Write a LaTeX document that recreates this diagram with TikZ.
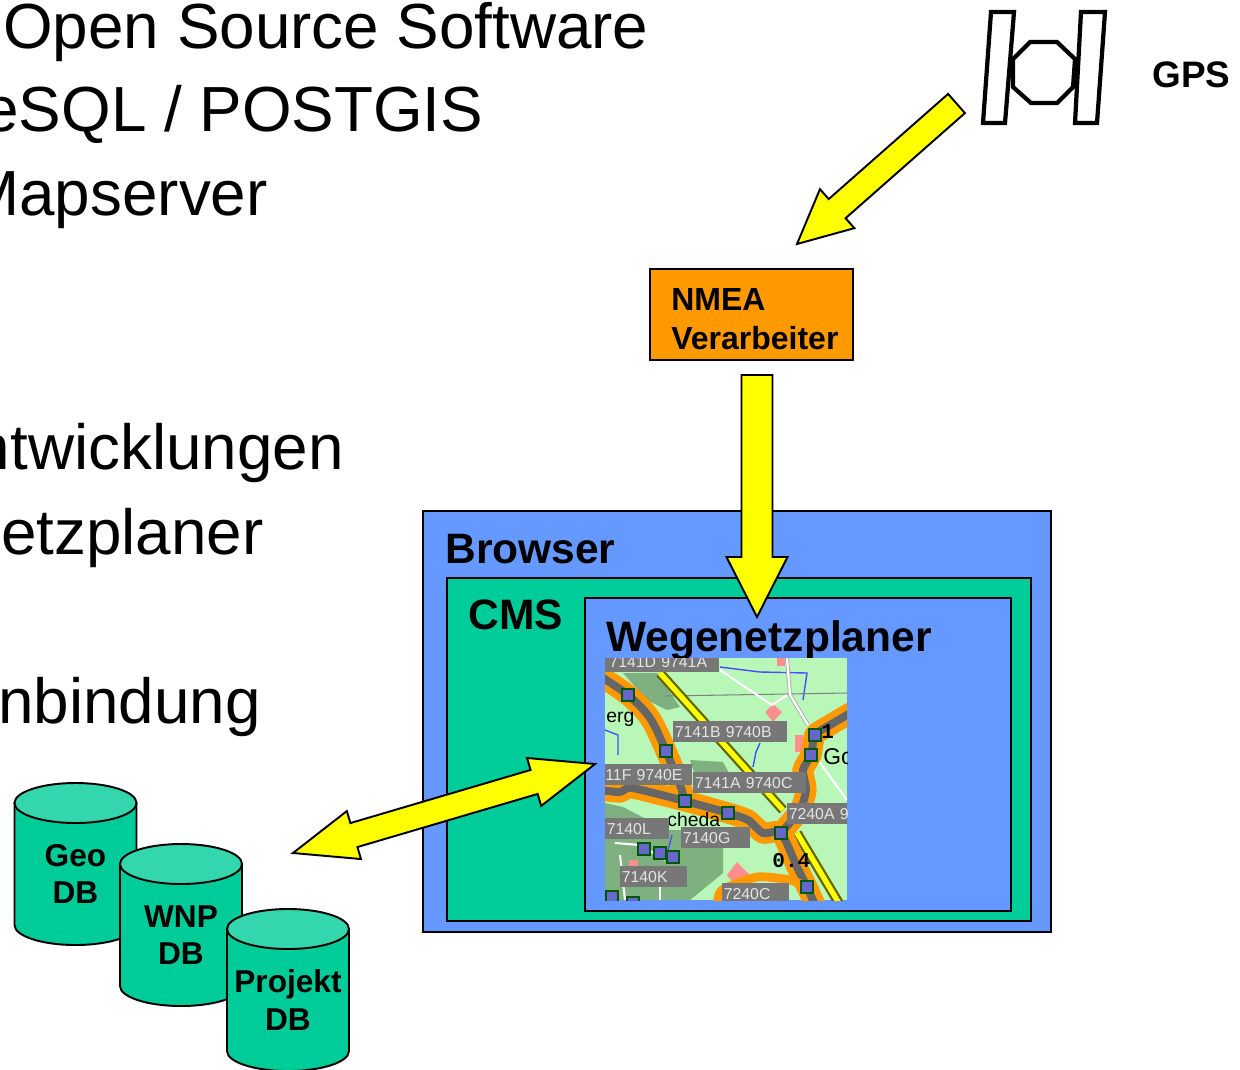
\documentclass[tikz,border=0pt]{standalone}
\usepackage{fontspec}
\setmainfont{Liberation Sans}
\setmonofont{Liberation Mono}
\usetikzlibrary{calc}
\definecolor{boxblue}{HTML}{6699FF}
\definecolor{boxgreen}{HTML}{00CC99}
\definecolor{toplight}{HTML}{33D6AD}
\definecolor{boxorange}{HTML}{FF9900}
\definecolor{arrowyellow}{HTML}{FFFF00}
\definecolor{mapgreen}{HTML}{B8F7B8}
\definecolor{mapdark}{HTML}{7FB07F}
\definecolor{mapgray}{HTML}{777777}
\definecolor{roadgray}{HTML}{666666}
\definecolor{mappink}{HTML}{FF8F8F}
\definecolor{mapsquare}{HTML}{6666CC}
\tikzset{
  slidetext/.style={inner sep=0pt,font=\fontsize{36.3}{40}\selectfont},
  titletext/.style={inner sep=0pt,font=\fontsize{24.2}{28}\selectfont\bfseries},
  boxnode/.style={draw=black,line width=1.1pt,inner sep=0pt},
  dbtext/.style={inner sep=0pt,align=center,font=\fontsize{18}{21.5}\selectfont\bfseries},
  yellowarrow/.style={draw=black,line width=1.1pt,fill=arrowyellow,line join=miter},
  satline/.style={draw=black,line width=2.4pt,fill=white,line join=miter},
  maplabel/.style={fill=mapgray,text=white!90!black,inner sep=0pt,anchor=north west,
    text depth=0pt,font=\fontsize{9}{10}\selectfont},
  mapsq/.style={draw=green!35!black,fill=mapsquare,line width=0.8pt,inner sep=0pt,minimum size=0.24cm},
  maptext/.style={inner sep=0pt,anchor=base west,font=\fontsize{11}{12}\selectfont},
  mapbold/.style={inner sep=0pt,anchor=base west,font=\fontsize{12}{12}\selectfont\ttfamily\bfseries}
}
% block arrows: from, to, half shaft, half head, head length
\newcommand{\blockarrow}[5]{
  \coordinate (hb) at ($(#2)!#5!(#1)$);
  \draw[yellowarrow] ($(#1)!#3!90:(#2)$) -- ($(hb)!#3!-90:(#1)$) -- ($(hb)!#4!-90:(#1)$) -- (#2)
    -- ($(hb)!#4!90:(#1)$) -- ($(hb)!#3!90:(#1)$) -- ($(#1)!#3!-90:(#2)$) -- cycle;
}
\newcommand{\twoheadarrow}[5]{
  \coordinate (ha) at ($(#1)!#5!(#2)$);
  \coordinate (hb) at ($(#2)!#5!(#1)$);
  \draw[yellowarrow] (#1) -- ($(ha)!#4!90:(#2)$) -- ($(ha)!#3!90:(#2)$) -- ($(hb)!#3!-90:(#1)$) -- ($(hb)!#4!-90:(#1)$) -- (#2)
    -- ($(hb)!#4!90:(#1)$) -- ($(hb)!#3!90:(#1)$) -- ($(ha)!#3!-90:(#2)$) -- ($(ha)!#4!-90:(#2)$) -- cycle;
}
% database drum: name, centre x, top y, text
\newcommand{\dbdrum}[4]{
  \draw[boxnode,fill=boxgreen] (#2-61,#3) -- (#2-61,#3+122)
    arc[start angle=180,end angle=0,x radius=61,y radius=20] -- (#2+61,#3) -- cycle;
  \draw[boxnode,fill=toplight] (#2,#3) ellipse [x radius=61,y radius=20];
  \node[dbtext] (#1) at (#2,#3+71) {#4};
}
% label on the map: name, x, y, width, text
\newcommand{\maplab}[5]{
  \node[maplabel,minimum width=#4*0.02cm,minimum height=0.42cm,text width=#4*0.02cm-0.06cm,
    inner xsep=0.03cm,align=left] (#1) at (#2,#3) {#5};
}
\begin{document}
\begin{tikzpicture}[x=0.02cm,y=-0.02cm]
  \useasboundingbox (0,0) rectangle (1240,1069);
  % text of the slide, cut off by the page
  \node[slidetext,anchor=base west] (linea) at (3,48) {Open Source Software};
  \node[slidetext,anchor=base east] (lineb) at (483.5,131) {eSQL / POSTGIS};
  \node[slidetext,anchor=base east] (linec) at (268,215) {Mapserver};
  \node[slidetext,anchor=base east] (lined) at (344,469) {ntwicklungen};
  \node[slidetext,anchor=base east] (linee) at (264,554) {etzplaner};
  \node[slidetext,anchor=base east] (linef) at (261,723) {nbindung};
  % satellite
  \draw[satline] (1030,42)--(1057,42)--(1075,59)--(1073,87)--(1057,103)--(1031,103)--(1013,87)--(1013,59)--cycle;
  \draw[satline] (991,12)--(1014,12)--(1005,123)--(983,123)--cycle;
  \draw[satline] (1081,12)--(1105,12)--(1097,123)--(1075,123)--cycle;
  \node[inner sep=0pt,anchor=base west,font=\fontsize{21}{24}\selectfont\bfseries] (gps) at (1152,87) {GPS};
  % nested boxes
  \node[boxnode,fill=boxorange,minimum width=4.06cm,minimum height=1.82cm] (nmea) at (751.5,314.5) {};
  \node[inner sep=0pt,anchor=base west,font=\fontsize{18.2}{12}\selectfont\bfseries] (nmeaa) at (671,310) {NMEA};
  \node[inner sep=0pt,anchor=base west,font=\fontsize{18.2}{12}\selectfont\bfseries] (nmeab) at (671,349) {Verarbeiter};
  \node[boxnode,fill=boxblue,minimum width=12.56cm,minimum height=8.42cm] (browser) at (737,721.5) {};
  \node[boxnode,fill=boxgreen,minimum width=11.68cm,minimum height=6.86cm] (cms) at (739,749.5) {};
  \node[boxnode,fill=boxblue,minimum width=8.52cm,minimum height=6.26cm] (wege) at (798,754.5) {};
  % arrows
  \coordinate (satout) at (956.5,103.5);
  \coordinate (nmeain) at (797,244);
  \coordinate (nmeaout) at (757,375);
  \coordinate (wegein) at (757,617);
  \coordinate (dbin) at (293,853);
  \coordinate (wegeleft) at (595,764);
  \blockarrow{satout}{nmeain}{0.255cm}{0.52cm}{1.07cm}
  \blockarrow{nmeaout}{wegein}{0.31cm}{0.61cm}{1.2cm}
  \twoheadarrow{dbin}{wegeleft}{0.25cm}{0.5cm}{1.27cm}
  \node[titletext,anchor=base west] (browsertext) at (445,563) {Browser};
  \node[titletext,anchor=base west] (cmstext) at (468,629) {CMS};
  \node[titletext,anchor=base west] (wegetext) at (606,651) {Wegenetzplaner};
  % the map
  \begin{scope}
    \clip (605,658) rectangle (847,900);
    \fill[mapgreen] (605,658) rectangle (847,900);
    \fill[mapdark] (623,673)--(657,673)--(680,707)--(667,710)--(647,700)--cycle;
    \fill[mapdark] (605,803)--(623,807)--(667,830)--(680,830)--(723,847)--(723,873)--(690,900)--(605,900)--cycle;
    \fill[mapdark] (690,760)--(723,762)--(730,775)--(695,775)--cycle;
    \fill[mappink] (773,704)--(782,712)--(773,722)--(765,712)--cycle;
    \fill[mappink] (795,735) rectangle (803,752);
    \fill[mappink] (727,875)--(737,862)--(750,875)--(735,885)--cycle;
    \fill[mappink] (629,860) rectangle (638,868);
    \fill[mappink] (777,658) rectangle (785,666);
    % streams and tracks
    \draw[blue!70!white,line width=0.8pt] (720,667)--(760,672)--(807,673)--(803,700);
    \draw[blue!70!white,line width=0.8pt] (760,743)--(756,752)--(753,767);
    \draw[blue!70!white,line width=0.8pt] (605,730)--(618,735)--(618,755);
    \draw[blue!70!white,line width=0.8pt] (672,835)--(668,850);
    \draw[gray,line width=0.6pt] (665,696)--(847,693);
    \draw[white,line width=1.2pt] (720,670)--(772,705)--(787,695);
    \draw[white,line width=1.2pt] (615,843)--(640,845)--(665,860);
    \draw[white,line width=1.2pt] (620,855)--(625,900);
    \draw[white,line width=1.2pt] (660,870)--(660,900);
    \draw[white,line width=1.2pt] (818,760)--(847,800);
    \draw[gray!70!white,line width=2.2pt] (787,658)--(790,695)--(808,725);
    \draw[white,line width=1.3pt] (787,658)--(790,695)--(808,725);
    % yellow roads
    \foreach \w/\c in {5.6pt/black!60!arrowyellow,3pt/arrowyellow} {
      \draw[line width=\w,color=\c] (660,673)--(720,740)--(783,810);
      \draw[line width=\w,color=\c] (797,833)--(840,905);
    }
    % main roads
    \foreach \w/\c in {12pt/boxorange,4.5pt/roadgray} {
      \draw[line width=\w,color=\c] plot[smooth] coordinates {(600,676)(628,695)(650,718)(666,751)(680,785)(685,801)};
      \draw[line width=\w,color=\c] plot[smooth,tension=0.4] coordinates {(600,790)(620,792)(632,788)(685,801)(728,813)(748,820)(763,833)(781,833)(797,867)(807,887)(815,905)};
      \draw[line width=\w,color=\c] plot[smooth,tension=0.4] coordinates {(781,833)(800,810)(806,790)(803,770)(811,755)(815,735)(830,725)(852,712)};
    }
    \draw[boxorange,line width=5pt] plot[smooth,tension=0.4] coordinates {(717,905)(722,890)(757,877)(790,880)(807,887)};
    \node[maptext] (ergtext) at (606,722) {erg};
    \node[maptext,font=\fontsize{13}{14}\selectfont] (gotext) at (823,764) {Go};
    \node[maptext] (chedatext) at (667,826) {cheda};
    \node[mapbold] (onetext) at (821,738) {1};
    \node[mapbold] (disttext) at (772,867) {0.4};
    \foreach \sx/\sy [count=\i] in {628/695,666/751,685/801,728/813,781/833,815/735,811/755,644/849,660/853,673/857,807/887,612/897,633/903}
      \node[mapsq] (sq\i) at (\sx,\sy) {};
    \maplab{laba}{605}{651}{114}{\,7141D 9741A}
    \maplab{labb}{673}{721}{114}{7141B 9740B}
    \maplab{labc}{590}{764}{102}{\hspace{0.27cm}11F 9740E}
    \maplab{labd}{693}{772}{113}{7141A 9740C}
    \maplab{labe}{787}{803}{70}{7240A 9}
    \maplab{labf}{605}{818}{64}{7140L}
    \maplab{labg}{681}{827}{69}{7140G}
    \maplab{labh}{620}{866}{67}{7140K}
    \maplab{labi}{722}{883}{67}{7240C}
  \end{scope}
  % databases
  \dbdrum{geodb}{75.5}{803}{Geo\\DB}
  \dbdrum{wnpdb}{181}{864}{WNP\\DB}
  \dbdrum{projektdb}{288}{929}{Projekt\\DB}
\end{tikzpicture}
\end{document}
